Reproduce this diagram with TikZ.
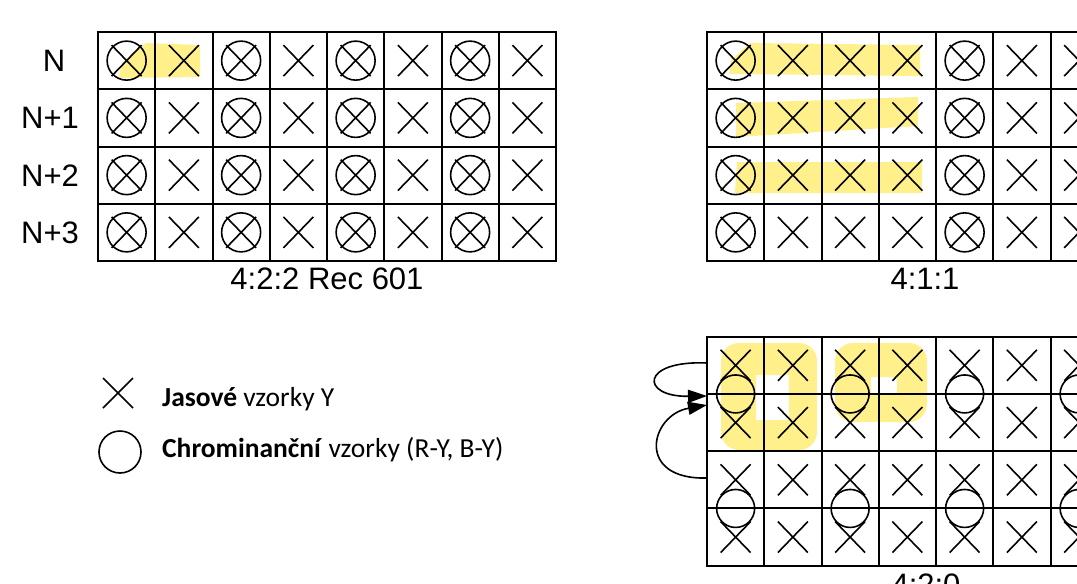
\documentclass[tikz,border=0pt]{standalone}
\usepackage{fontspec}
\setmainfont{Liberation Sans}
\newfontfamily\legendfont{Carlito}
\usetikzlibrary{arrows.meta}
\definecolor{hl}{RGB}{255,240,140}
\begin{document}
\begin{tikzpicture}[x=1pt,y=-1pt,
  gridline/.style={line width=2pt, black},
  sym/.style={line width=1.6pt, black},
  lbl/.style={font=\fontsize{31}{31}\selectfont, inner sep=0pt, anchor=base},
  legtxt/.style={font=\legendfont\fontsize{27.5}{27.5}\selectfont, inner sep=0pt, anchor=base west},
  marker/.style={fill=hl, draw=none},
  arr/.style={sym, -{Triangle[length=19pt,width=13pt]}}
]
\useasboundingbox (0,0) rectangle (1077,584);
\clip (0,0) rectangle (1077,584);

% ---------- highlights ----------
\fill[marker] (146,43) -- (200,45) -- (200,77) -- (119,78) -- (121,66) -- (133,52) -- cycle;
\fill[marker] (750,43) -- (920,45) -- (920,76) -- (729,74) -- (731,60) -- cycle;
\fill[marker] (736,103) -- (918,97) -- (918,126) -- (736,137) -- cycle;
\fill[marker] (737,162) -- (922,162) -- (922,193) -- (735,193) -- cycle;
\fill[marker, even odd rule] [rounded corners=18pt] (721,343) rectangle (817,450) [sharp corners] (756,375) rectangle (789,420);
\fill[marker, even odd rule] [rounded corners=18pt] (835,343) rectangle (927,422) [sharp corners] (871,377) rectangle (897,394);

% ---------- grid 4:2:2 ----------
\foreach \i in {0,...,8} \draw[gridline] ({98+57.25*\i},32) -- ({98+57.25*\i},261);
\foreach \j in {0,...,4} \draw[gridline, line cap=rect] (98,{32+57.25*\j}) -- (556,{32+57.25*\j});
\foreach \i in {0,...,7}{
  \foreach \j in {0,...,3}{
    \draw[sym] ({98+57.25*(\i+0.5)},{32+57.25*(\j+0.5)}) +(-15,-15.5) -- +(15,15.5) +(-15,15.5) -- +(15,-15.5);
  }
}
\foreach \i in {0,2,4,6}{
  \foreach \j in {0,...,3}{
    \draw[sym] ({98+57.25*(\i+0.5)},{32+57.25*(\j+0.5)}) circle[radius=19.5];
  }
}
\node[lbl] (lN)  at (54,71.6) {N};
\node[lbl] (lN1) at (50,128.9) {N+1};
\node[lbl] (lN2) at (50,186.1) {N+2};
\node[lbl] (lN3) at (50,243.4) {N+3};
\node[lbl] (c422) at (327,289) {4:2:2 Rec 601};

% ---------- grid 4:1:1 ----------
\foreach \i in {0,...,8} \draw[gridline] ({707+57.25*\i},32) -- ({707+57.25*\i},261);
\foreach \j in {0,...,4} \draw[gridline, line cap=rect] (707,{32+57.25*\j}) -- (1165,{32+57.25*\j});
\foreach \i in {0,...,7}{
  \foreach \j in {0,...,3}{
    \draw[sym] ({707+57.25*(\i+0.5)},{32+57.25*(\j+0.5)}) +(-15,-15.5) -- +(15,15.5) +(-15,15.5) -- +(15,-15.5);
  }
}
\foreach \i in {0,4}{
  \foreach \j in {0,...,3}{
    \draw[sym] ({707+57.25*(\i+0.5)},{32+57.25*(\j+0.5)}) circle[radius=19.5];
  }
}
\node[lbl] (c411) at (925,289) {4:1:1};

% ---------- grid 4:2:0 ----------
\foreach \i in {0,...,8} \draw[gridline] ({707+57.25*\i},336.7) -- ({707+57.25*\i},565.7);
\foreach \j in {0,...,4} \draw[gridline, line cap=rect] (707,{336.7+57.25*\j}) -- (1165,{336.7+57.25*\j});
\foreach \i in {0,...,7}{
  \foreach \j in {0,...,3}{
    \draw[sym] ({707+57.25*(\i+0.5)},{336.7+57.25*(\j+0.5)}) +(-15,-15.5) -- +(15,15.5) +(-15,15.5) -- +(15,-15.5);
  }
}
\foreach \i in {0,2,4,6}{
  \foreach \j in {1,3}{
    \draw[sym] ({707+57.25*(\i+0.5)},{336.7+57.25*\j}) circle[radius=19];
  }
}
\node[lbl] (c420) at (926,595) {4:2:0};

% ---------- arrows ----------
\coordinate (a1s) at (707,363);
\coordinate (a1e) at (707,396);
\coordinate (a2s) at (707,478);
\coordinate (a2e) at (707,405);
\draw[arr] (a1s) .. controls (640,360) and (640,397) .. (a1e);
\draw[arr] (a2s) .. controls (635,480) and (650,415) .. (a2e);

% ---------- legend ----------
\draw[sym] (118,393) +(-15,-15) -- +(15,15) +(-15,15) -- +(15,-15);
\draw[sym] (120,452) circle[radius=21];
\node[legtxt] (leg1) at (162,406.7) {\textbf{Jasové} vzorky Y};
\node[legtxt] (leg2) at (162,457) {\textbf{Chrominanční} vzorky (R-Y, B-Y)};
\end{tikzpicture}
\end{document}
